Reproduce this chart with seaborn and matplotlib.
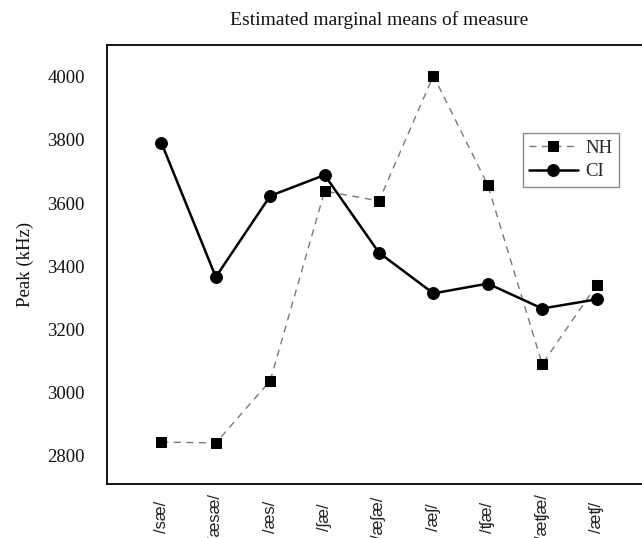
import matplotlib
matplotlib.use("Agg")
import matplotlib.pyplot as plt
import pandas as pd
import seaborn as sns

# Stimulus conditions and estimated marginal means of the spectral peak
conditions = ["/sæ/", "/æsæ/", "/æs/", "/ʃæ/", "/æʃæ/", "/æʃ/", "/ʧæ/", "/æʧæ/", "/æʧ/"]
nh_peak = [2843, 2840, 3037, 3638, 3607, 4004, 3657, 3090, 3340]
ci_peak = [3791, 3366, 3623, 3689, 3443, 3314, 3345, 3266, 3295]
groups = ["NH", "CI"]
y_ticks = [2800, 3000, 3200, 3400, 3600, 3800, 4000]

sns.set_theme(style="white")
plt.rcParams["font.family"] = ["Liberation Serif", "DejaVu Serif"]

df = pd.DataFrame({
    "condition": conditions * 2,
    "peak": nh_peak + ci_peak,
    "group": [groups[0]] * len(conditions) + [groups[1]] * len(conditions),
})

W, H = 642, 538
fig = plt.figure(figsize=(W / 100, H / 100), dpi=100)
fig.patch.set_facecolor("white")
ax = fig.add_axes([107 / W, (H - 484) / H, 544 / W, 439 / H])

sns.lineplot(
    data=df[df["group"] == "NH"], x="condition", y="peak", ax=ax,
    errorbar=None, sort=False, color="#7a7a7a", linewidth=1.0,
    linestyle=(0, (5, 4)), marker="s", markersize=7.5,
    markerfacecolor="black", markeredgecolor="black", label="NH",
)
sns.lineplot(
    data=df[df["group"] == "CI"], x="condition", y="peak", ax=ax,
    errorbar=None, sort=False, color="black", linewidth=1.8,
    linestyle="-", marker="o", markersize=8.5,
    markerfacecolor="black", markeredgecolor="black", label="CI",
)
handles, labels = ax.get_legend_handles_labels()
if ax.get_legend() is not None:
    ax.get_legend().remove()

ax.set_xlim(-1, len(conditions))
ax.set_ylim(2710, 4101)
ax.set_yticks(y_ticks)
ax.set_yticklabels([str(v) for v in y_ticks])
ax.set_xticks(range(len(conditions)))
ax.set_xticklabels(conditions, rotation=90, va="center", ha="center",
                   family=["Liberation Sans", "DejaVu Sans"], fontsize=12,
                   color="#222222")
ax.tick_params(axis="y", length=0, pad=16, labelsize=13.5, labelcolor="#111111")
ax.tick_params(axis="x", length=0, pad=24)
ax.set_xlabel("")
ax.set_ylabel("Peak (kHz)", fontsize=13.5, va="center", color="#111111")
ax.yaxis.set_label_coords((25 - 107) / 544, 0.5)

for sp in ax.spines.values():
    sp.set_visible(True)
    sp.set_color("black")
    sp.set_linewidth(1.3)

ax.set_title("Estimated marginal means of measure", fontsize=14,
             y=(484 - 20) / 439, va="center", pad=0, color="#111111")

leg = fig.legend(handles, labels, loc="upper right",
                 bbox_to_anchor=(619 / W, 1 - 133 / H), borderaxespad=0,
                 fontsize=13.5, frameon=True, fancybox=False, framealpha=1,
                 edgecolor="#8a8a8a", handlelength=2.6, handletextpad=0.4,
                 labelspacing=0.35, borderpad=0.35)
leg.get_frame().set_linewidth(1.0)

fig.savefig("out.png", dpi=100, facecolor="white")
